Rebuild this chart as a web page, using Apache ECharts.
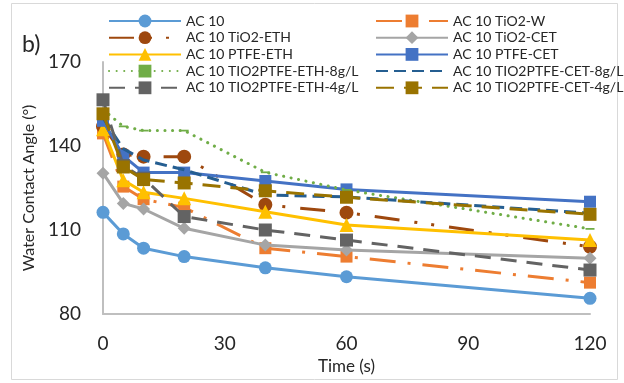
<!DOCTYPE html>
<html>
<head>
<meta charset="utf-8">
<script src="https://cdn.jsdelivr.net/npm/echarts@6/dist/echarts.min.js"></script>
<style>
html,body{margin:0;padding:0;background:#fff;}
#chart{width:624px;height:383px;}
</style>
</head>
<body>
<div id="chart"></div>
<script>
// ---- data ----
const times = [0, 5, 10, 20, 40, 60, 120];
const names = [
  'AC 10', 'AC 10 TiO2-W',
  'AC 10 TiO2-ETH', 'AC 10 TiO2-CET',
  'AC 10 PTFE-ETH', 'AC 10 PTFE-CET',
  'AC 10 TIO2PTFE-ETH-8g/L', 'AC 10 TIO2PTFE-CET-8g/L',
  'AC 10 TIO2PTFE-ETH-4g/L', 'AC 10 TIO2PTFE-CET-4g/L'
];
const ac10    = [116.3, 108.6, 103.5, 100.5, 96.5, 93.3, 85.6];
const tio2W   = [144.5, 125.5, 121.0, 118.0, 103.5, 100.5, 91.2];
const tio2ETH = [147.0, 137.0, 136.2, 136.2, 119.0, 116.2, 104.0];
const tio2CET = [130.3, 119.5, 117.5, 110.6, 104.6, 102.9, 99.9];
const ptfeETH = [146.0, 127.8, 123.5, 121.3, 116.5, 111.8, 106.4];
const ptfeCET = [149.0, 136.5, 130.5, 130.5, 127.5, 124.5, 120.1];
const eth8    = [153.0, 147.0, 145.5, 145.5, 130.6, 124.3, 110.4];
const cet8    = [150.0, 139.0, 135.0, 131.5, 122.5, 121.8, 116.0];
const eth4    = [156.5, 133.0, 128.5, 114.8, 110.0, 106.4, 95.7];
const cet4    = [151.5, 132.5, 128.0, 126.8, 124.0, 121.7, 115.6];
const xTicks = [0, 30, 60, 90, 120];
const yTicks = [80, 110, 140, 170];

const values = [ac10, tio2W, tio2ETH, tio2CET, ptfeETH, ptfeCET, eth8, cet8, eth4, cet4];

// ---- styles ----
const DASH_MARK = 'path://M0,0h9v4h-9z';
const styles = [
  {color:'#5B9BD5', type:'solid', symbol:'circle', size:13},
  {color:'#ED7D31', type:[26,12,3,12], symbol:'rect', size:12},
  {color:'#9E480E', type:[25,15,3,14,3,15], symbol:'circle', size:14},
  {color:'#A5A5A5', type:'solid', symbol:'diamond', size:13},
  {color:'#FFC000', type:'solid', symbol:'triangle', size:14},
  {color:'#4472C4', type:'solid', symbol:'rect', size:12},
  {color:'#70AD47', type:[0.1,7.5], cap:'round', symbol:DASH_MARK, size:[9,4]},
  {color:'#255E91', type:[12,6], symbol:'none', size:0},
  {color:'#636363', type:[16,10], symbol:'rect', size:13},
  {color:'#997300', type:[18,10], symbol:'rect', size:13}
];

const FONT = 'Lato, "Open Sans", sans-serif';
const TXT = '#262626';

const series = values.map((vals, i) => {
  const s = styles[i];
  return {
    name: names[i],
    type: 'line',
    data: times.map((t, j) => [t, vals[j]]),
    symbol: s.symbol === 'none' ? 'rect' : s.symbol,
    symbolSize: s.size,
    symbolKeepAspect: true,
    showSymbol: s.symbol !== 'none',
    itemStyle: {color: s.color},
    lineStyle: {color: s.color, width: 3, type: s.type, cap: s.cap || 'butt'},
    z: 2 + i,
    emphasis: {disabled: true}
  };
});

function legendItem(i) {
  if (styles[i].symbol === 'none') {
    return {name: names[i], itemStyle: {opacity: 0}};
  }
  return {name: names[i]};
}

const legendBase = {
  orient: 'vertical',
  top: 9,
  itemWidth: 72,
  itemHeight: 16,
  itemGap: 2.7,
  textStyle: {fontSize: 14, fontFamily: FONT, color: TXT},
  selectedMode: false
};

const chart = echarts.init(document.getElementById('chart'), null, {renderer: 'canvas'});
chart.setOption({
  animation: false,
  backgroundColor: '#ffffff',
  grid: {left: 103, right: 34, top: 62, bottom: 69, containLabel: false},
  legend: [
    Object.assign({}, legendBase, {left: 103, data: [0, 2, 4, 6, 8].map(legendItem)}),
    Object.assign({}, legendBase, {left: 370, data: [1, 3, 5, 7, 9].map(legendItem)})
  ],
  xAxis: {
    type: 'value',
    min: xTicks[0], max: xTicks[xTicks.length - 1], interval: 30,
    name: 'Time (s)', nameLocation: 'middle', nameGap: 41,
    nameTextStyle: {fontSize: 17, fontFamily: FONT, color: TXT},
    axisLine: {show: true, lineStyle: {color: '#BFBFBF', width: 2}},
    axisTick: {show: false},
    splitLine: {show: false},
    axisLabel: {fontSize: 19, fontFamily: FONT, color: TXT, margin: 20}
  },
  yAxis: {
    type: 'value',
    min: yTicks[0], max: yTicks[yTicks.length - 1], interval: 30,
    name: 'Water Contact Angle (°)', nameLocation: 'middle', nameGap: 60,
    nameTextStyle: {fontSize: 16, fontFamily: FONT, color: TXT},
    axisLine: {show: true, lineStyle: {color: '#BFBFBF', width: 2}},
    axisTick: {show: false},
    splitLine: {show: false},
    axisLabel: {fontSize: 19, fontFamily: FONT, color: TXT, margin: 22}
  },
  graphic: [
    {type: 'rect', shape: {x: 11.5, y: 3.5, width: 606, height: 376}, style: {fill: 'none', stroke: '#D9D9D9', lineWidth: 1}, z: 0, silent: true},
    {type: 'text', left: 22, top: 33, style: {text: 'b)', fontSize: 23, fontFamily: FONT, fill: TXT}, z: 10}
  ],
  series: series
});
</script>
</body>
</html>
